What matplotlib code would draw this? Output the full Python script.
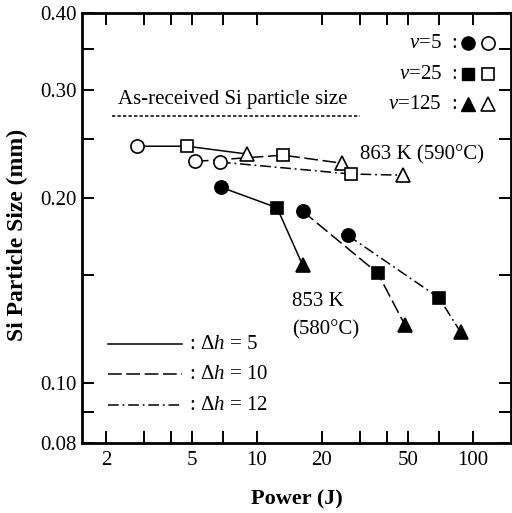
import matplotlib
matplotlib.use("Agg")
import matplotlib.pyplot as plt
from matplotlib.ticker import FixedLocator, NullFormatter, FixedFormatter

plt.rcParams["font.family"] = ["Liberation Serif", "DejaVu Serif"]
plt.rcParams["mathtext.fontset"] = "custom"
plt.rcParams["mathtext.rm"] = "Liberation Serif"
plt.rcParams["mathtext.it"] = "Liberation Serif:italic"

# values: power (J) and Si particle size (mm), order v = 5, 25, 125
p863_dh5 = [2.78, 4.74, 9.0]
s863_dh5 = [0.243, 0.243, 0.236]
p863_dh10 = [5.16, 13.2, 24.8]
s863_dh10 = [0.2295, 0.235, 0.228]
p863_dh12 = [6.75, 27.2, 47.4]
s863_dh12 = [0.229, 0.219, 0.218]
p853_dh5 = [6.8, 12.4, 16.3]
s853_dh5 = [0.2085, 0.193, 0.1556]
p853_dh10 = [16.3, 36.3, 48.4]
s853_dh10 = [0.1905, 0.151, 0.1245]
p853_dh12 = [26.4, 69.7, 87.9]
s853_dh12 = [0.174, 0.1377, 0.121]
as_received = 0.272
as_received_span = [2.13, 30.0]

markers = ["o", "s", "^"]
msizes = [9.5, 8.5, 9.5]
styles = {
    "dh5": dict(linestyle="-"),
    "dh10": dict(dashes=(9, 3)),
    "dh12": dict(dashes=(7, 2.5, 1.2, 2.5)),
}
FS = 15

fig = plt.figure(figsize=(5.12, 5.13), dpi=100)
ax = fig.add_axes([0.160, 0.1365, 0.838, 0.838])
ax.set_xscale("log")
ax.set_yscale("log")
ax.set_xlim(1.55, 150)
ax.set_ylim(0.08, 0.40)

series = [
    (p863_dh5, s863_dh5, "dh5", "white"),
    (p863_dh10, s863_dh10, "dh10", "white"),
    (p863_dh12, s863_dh12, "dh12", "white"),
    (p853_dh5, s853_dh5, "dh5", "black"),
    (p853_dh10, s853_dh10, "dh10", "black"),
    (p853_dh12, s853_dh12, "dh12", "black"),
]
for xs, ys, key, face in series:
    ax.plot(xs, ys, color="black", lw=1.1, zorder=2, **styles[key])
    for x, y, m, ms in zip(xs, ys, markers, msizes):
        ax.plot([x], [y], marker=m, ms=ms, mfc=face, mec="black", mew=1.2,
                linestyle="none", zorder=3)

ax.plot(as_received_span, [as_received, as_received], color="black", lw=1.1,
        dashes=(2.2, 1.4))
ax.text(0.084, 0.800, "As-received Si particle size", transform=ax.transAxes,
        fontsize=FS, ha="left", va="center")

ax.text(0.648, 0.670, "863 K (590°C)", transform=ax.transAxes, fontsize=FS,
        ha="left", va="center")
ax.text(0.490, 0.328, "853 K", transform=ax.transAxes, fontsize=FS,
        ha="left", va="center")
ax.text(0.490, 0.263, "(580°C)", transform=ax.transAxes, fontsize=FS,
        ha="left", va="center")

# marker key (top right)
v_labels = ["5", "25", "125"]
v_y = [0.930, 0.858, 0.788]
for lab, yy, m, ms in zip(v_labels, v_y, markers, msizes):
    ax.text(0.839, yy, "$v$=" + lab, transform=ax.transAxes, fontsize=FS,
            ha="right", va="center")
    ax.text(0.860, yy, ":", transform=ax.transAxes, fontsize=FS,
            ha="left", va="center")
    ax.plot([0.900], [yy], marker=m, ms=ms, mfc="black", mec="black",
            transform=ax.transAxes, clip_on=False)
    ax.plot([0.946], [yy], marker=m, ms=ms, mfc="white", mec="black", mew=1.2,
            transform=ax.transAxes, clip_on=False)

# line style key (bottom left)
dh_labels = ["5", "10", "12"]
dh_y = [0.230, 0.160, 0.088]
for lab, yy, key in zip(dh_labels, dh_y, ["dh5", "dh10", "dh12"]):
    ax.plot([0.061, 0.233], [yy, yy], color="black", lw=1.1,
            transform=ax.transAxes, **styles[key])
    ax.text(0.250, yy, ": Δ$h$ = " + lab, transform=ax.transAxes, fontsize=FS,
            ha="left", va="center")

ax.xaxis.set_major_locator(FixedLocator([2, 5, 10, 20, 50, 100]))
ax.xaxis.set_major_formatter(FixedFormatter(["2", "5", "10", "20", "50", "100"]))
ax.xaxis.set_minor_locator(FixedLocator([3, 4, 7, 30, 40, 70]))
ax.xaxis.set_minor_formatter(NullFormatter())
ax.yaxis.set_major_locator(FixedLocator([0.08, 0.10, 0.20, 0.30, 0.40]))
ax.yaxis.set_major_formatter(FixedFormatter(["0.08", "0.10", "0.20", "0.30", "0.40"]))
ax.yaxis.set_minor_locator(FixedLocator([0.09, 0.15, 0.25, 0.35]))
ax.yaxis.set_minor_formatter(NullFormatter())

ax.tick_params(which="both", direction="in", top=True, right=True,
               length=8.5, width=1.4, labelsize=FS)
ax.tick_params(axis="x", which="both", pad=6)
ax.tick_params(axis="y", which="both", pad=4)
for sp in ax.spines.values():
    sp.set_linewidth(2.0)

ax.set_xlabel("Power (J)", fontsize=16, fontweight="bold", labelpad=14)
ax.set_ylabel("Si Particle Size (mm)", fontsize=17, fontweight="bold")
ax.yaxis.set_label_coords(-0.125, 0.484)

fig.savefig("out.png", dpi=100)
